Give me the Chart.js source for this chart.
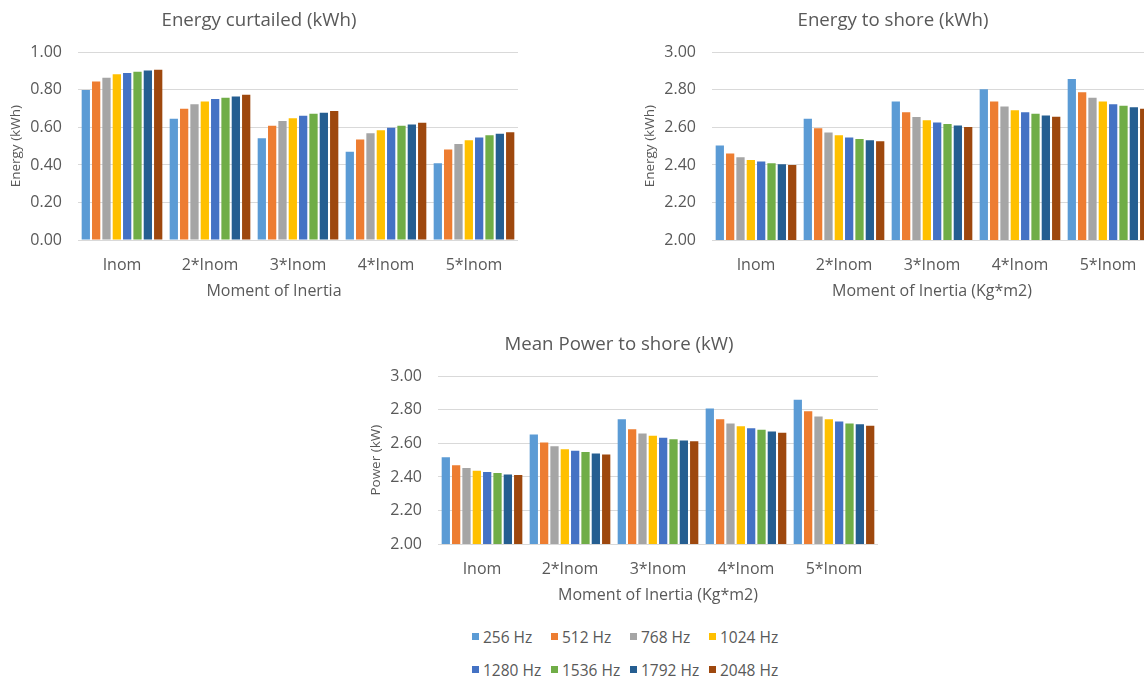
<!DOCTYPE html>
<html lang="en">
<head>
<meta charset="UTF-8">
<title>Energy / Power to shore</title>
<script src="https://cdn.jsdelivr.net/npm/chart.js@4.4.1/dist/chart.umd.min.js"></script>
<style>
    html, body { margin: 0; padding: 0; background: #fff; }
    body { width: 1144px; height: 680px; overflow: hidden; position: relative; font-family: "Open Sans", sans-serif; }
    canvas { position: absolute; }
    #chart1 { left: 0; top: 0; }
    #chart2 { left: 634px; top: 0; }
    #chart3 { left: 360px; top: 324px; }
    #legend { position: absolute; left: 472px; top: 620px; width: 330px; display: flex; flex-wrap: wrap; }
    .legend-item { display: flex; align-items: center; width: 79px; height: 33px; font-size: 15.5px; color: #595959; white-space: nowrap; }
    .legend-box { width: 7px; height: 7px; margin-right: 4px; flex: none; }
</style>
</head>
<body>
<canvas id="chart1" width="524" height="310"></canvas>
<canvas id="chart2" width="524" height="310"></canvas>
<canvas id="chart3" width="524" height="290"></canvas>
<div id="legend"></div>
<script>
// カテゴリと系列
const categories = ['Inom', '2*Inom', '3*Inom', '4*Inom', '5*Inom'];
const frequencies = ['256 Hz', '512 Hz', '768 Hz', '1024 Hz', '1280 Hz', '1536 Hz', '1792 Hz', '2048 Hz'];

// Energy curtailed (kWh) - 周波数ごと
const energyCurtailed = [
    [0.800, 0.646, 0.543, 0.470, 0.409],
    [0.845, 0.700, 0.609, 0.536, 0.482],
    [0.865, 0.724, 0.635, 0.569, 0.512],
    [0.883, 0.738, 0.649, 0.585, 0.532],
    [0.890, 0.751, 0.662, 0.598, 0.546],
    [0.897, 0.758, 0.673, 0.609, 0.559],
    [0.904, 0.765, 0.678, 0.616, 0.566],
    [0.907, 0.774, 0.687, 0.625, 0.575]
];

// Energy to shore (kWh)
const energyToShore = [
    [2.504, 2.646, 2.738, 2.804, 2.858],
    [2.461, 2.596, 2.681, 2.738, 2.788],
    [2.441, 2.573, 2.655, 2.712, 2.758],
    [2.427, 2.559, 2.639, 2.692, 2.738],
    [2.418, 2.546, 2.626, 2.681, 2.724],
    [2.409, 2.539, 2.619, 2.673, 2.715],
    [2.404, 2.532, 2.610, 2.664, 2.708],
    [2.400, 2.527, 2.603, 2.657, 2.699]
];

// Mean Power to shore (kW)
const meanPower = [
    [2.518, 2.654, 2.745, 2.808, 2.860],
    [2.470, 2.605, 2.684, 2.745, 2.792],
    [2.453, 2.583, 2.660, 2.719, 2.761],
    [2.437, 2.565, 2.646, 2.702, 2.745],
    [2.429, 2.557, 2.634, 2.690, 2.731],
    [2.423, 2.549, 2.625, 2.682, 2.719],
    [2.415, 2.540, 2.617, 2.672, 2.715],
    [2.411, 2.534, 2.613, 2.664, 2.706]
];

// 色
const colors = ['#5B9BD5', '#ED7D31', '#A5A5A5', '#FFC000', '#4472C4', '#70AD47', '#255E91', '#9E480E'];
const FONT = '"Open Sans", sans-serif';
const TEXT = '#595959';
const GRID = '#D9D9D9';

// X軸タイトル（位置をずらせるように自前で描く）
const xTitlePlugin = {
    id: 'xTitle',
    afterDraw(chart, args, opts) {
        const { ctx, chartArea } = chart;
        ctx.save();
        ctx.font = '16px ' + FONT;
        ctx.fillStyle = TEXT;
        ctx.textAlign = 'center';
        ctx.textBaseline = 'middle';
        ctx.fillText(opts.text, (chartArea.left + chartArea.right) / 2 + opts.shift, chartArea.bottom + 51);
        ctx.restore();
    }
};

function makeChart(id, title, values, yTitle, xTitle, yMin, yMax, xShift) {
    const ctx = document.getElementById(id).getContext('2d');
    return new Chart(ctx, {
        type: 'bar',
        data: {
            labels: categories,
            datasets: frequencies.map((f, i) => ({
                label: f,
                data: values[i],
                backgroundColor: colors[i],
                categoryPercentage: 0.94,
                barPercentage: 0.8
            }))
        },
        options: {
            responsive: false,
            animation: false,
            devicePixelRatio: 1,
            layout: { padding: { right: 6 } },
            plugins: {
                legend: { display: false },
                tooltip: { enabled: false },
                title: {
                    display: true,
                    text: title,
                    color: TEXT,
                    font: { family: FONT, size: 18.67, weight: 'normal' },
                    padding: { top: 9, bottom: 21 }
                },
                xTitle: { text: xTitle, shift: xShift }
            },
            scales: {
                x: {
                    grid: { display: false },
                    border: { display: false },
                    ticks: {
                        color: TEXT,
                        font: { family: FONT, size: 16 },
                        padding: 8,
                        autoSkip: false,
                        maxRotation: 0
                    },
                    afterFit(scale) { scale.height = 70; }
                },
                y: {
                    min: yMin,
                    max: yMax,
                    grid: { color: GRID, drawTicks: false },
                    border: { display: false },
                    ticks: {
                        stepSize: 0.2,
                        color: TEXT,
                        font: { family: FONT, size: 16 },
                        padding: 16,
                        callback: v => v.toFixed(2)
                    },
                    title: {
                        display: true,
                        text: yTitle,
                        color: TEXT,
                        font: { family: FONT, size: 13.5 },
                        padding: { top: 8, bottom: 0 }
                    },
                    afterFit(scale) { scale.width = 78; }
                }
            }
        },
        plugins: [xTitlePlugin]
    });
}

makeChart('chart1', 'Energy curtailed (kWh)', energyCurtailed, 'Energy (kWh)', 'Moment of Inertia', 0, 1, -24);
makeChart('chart2', 'Energy to shore (kWh)', energyToShore, 'Energy (kWh)', 'Moment of Inertia (Kg*m2)', 2, 3, 0);
makeChart('chart3', 'Mean Power to shore (kW)', meanPower, 'Power (kW)', 'Moment of Inertia (Kg*m2)', 2, 3, 0);

// 凡例
document.getElementById('legend').innerHTML = frequencies.map((f, i) => `
    <div class="legend-item"><span class="legend-box" style="background:${colors[i]}"></span>${f}</div>
`).join('');
</script>
</body>
</html>
